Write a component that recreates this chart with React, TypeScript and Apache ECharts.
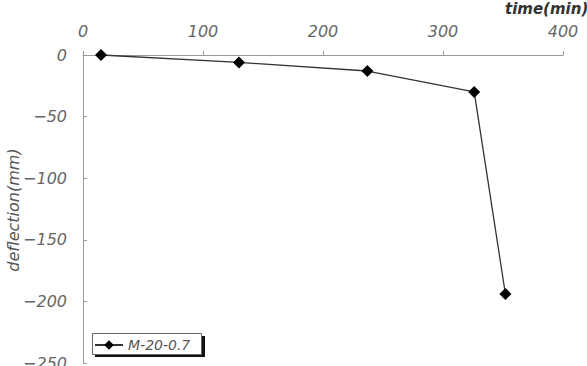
import React, { useEffect, useRef } from "react";
import * as echarts from "echarts";

const timeMin = [15, 130, 237, 326, 352];
const deflection = [0, -6, -13, -30, -194];
const seriesName = "M-20-0.7";
const xTicks = [0, 100, 200, 300, 400];
const yTicks = [0, -50, -100, -150, -200, -250];

const FONT = "DejaVu Sans, Liberation Sans, sans-serif";

export default function App() {
  const ref = useRef<HTMLDivElement>(null);
  useEffect(() => {
    if (!ref.current) return;
    const chart = echarts.init(ref.current, null, { renderer: "svg" });
    const labelFont = {
      color: "#666",
      fontStyle: "italic" as const,
      fontFamily: FONT,
      fontSize: 16,
    };
    chart.setOption({
      animation: false,
      backgroundColor: "#fff",
      grid: {
        left: 83,
        right: 24,
        top: 55,
        bottom: 3,
        containLabel: false,
        outerBoundsMode: "none",
      },
      xAxis: {
        type: "value",
        position: "top",
        min: xTicks[0],
        max: xTicks[xTicks.length - 1],
        interval: 100,
        axisLine: { show: true, onZero: false, lineStyle: { color: "#999", width: 1 } },
        axisTick: { show: true, inside: false, length: 4, lineStyle: { color: "#999" } },
        splitLine: { show: false },
        axisLabel: { ...labelFont, margin: 16 },
      },
      yAxis: {
        type: "value",
        min: yTicks[yTicks.length - 1],
        max: yTicks[0],
        interval: 50,
        axisLine: { show: true, onZero: false, lineStyle: { color: "#999", width: 1 } },
        axisTick: { show: true, inside: true, length: 4, lineStyle: { color: "#999" } },
        splitLine: { show: false },
        axisLabel: {
          ...labelFont,
          margin: 16,
          formatter: (v: number) => String(v).replace("-", "\u2212"),
        },
      },
      legend: {
        show: true,
        left: 94,
        top: 338,
        orient: "horizontal",
        padding: 0,
        itemWidth: 28,
        itemHeight: 12,
        itemGap: 4,
        z: 10,
        textStyle: {
          color: "#555",
          fontStyle: "italic",
          fontFamily: FONT,
          fontSize: 14,
        },
        data: [{ name: seriesName }],
      },
      graphic: [
        {
          type: "rect",
          z: 1,
          shape: { x: 95, y: 336, width: 110, height: 21 },
          style: { fill: "#111" },
        },
        {
          type: "rect",
          z: 2,
          shape: { x: 92.5, y: 333.5, width: 109, height: 21 },
          style: { fill: "#fff", stroke: "#666", lineWidth: 1 },
        },
        {
          type: "text",
          x: 505,
          y: 9,
          style: {
            text: "time(min)",
            fill: "#333",
            font: "italic bold 15px DejaVu Sans, Liberation Sans, sans-serif",
            verticalAlign: "middle",
            align: "left",
          },
        },
        {
          type: "text",
          x: 13,
          y: 210,
          rotation: Math.PI / 2,
          style: {
            text: "deflection(mm)",
            fill: "#555",
            font: "italic 16px DejaVu Sans, Liberation Sans, sans-serif",
            align: "center",
            verticalAlign: "middle",
          },
        },
      ],
      series: [
        {
          name: seriesName,
          type: "line",
          data: timeMin.map((t, i) => [t, deflection[i]]),
          symbol: "diamond",
          symbolSize: 12,
          itemStyle: { color: "#000" },
          lineStyle: { color: "#333", width: 1.3 },
          clip: false,
          z: 3,
        },
      ],
    });
    return () => chart.dispose();
  }, []);
  return (
    <div
      ref={ref}
      style={{ position: "absolute", left: 0, top: 0, width: 587, height: 366 }}
    />
  );
}
